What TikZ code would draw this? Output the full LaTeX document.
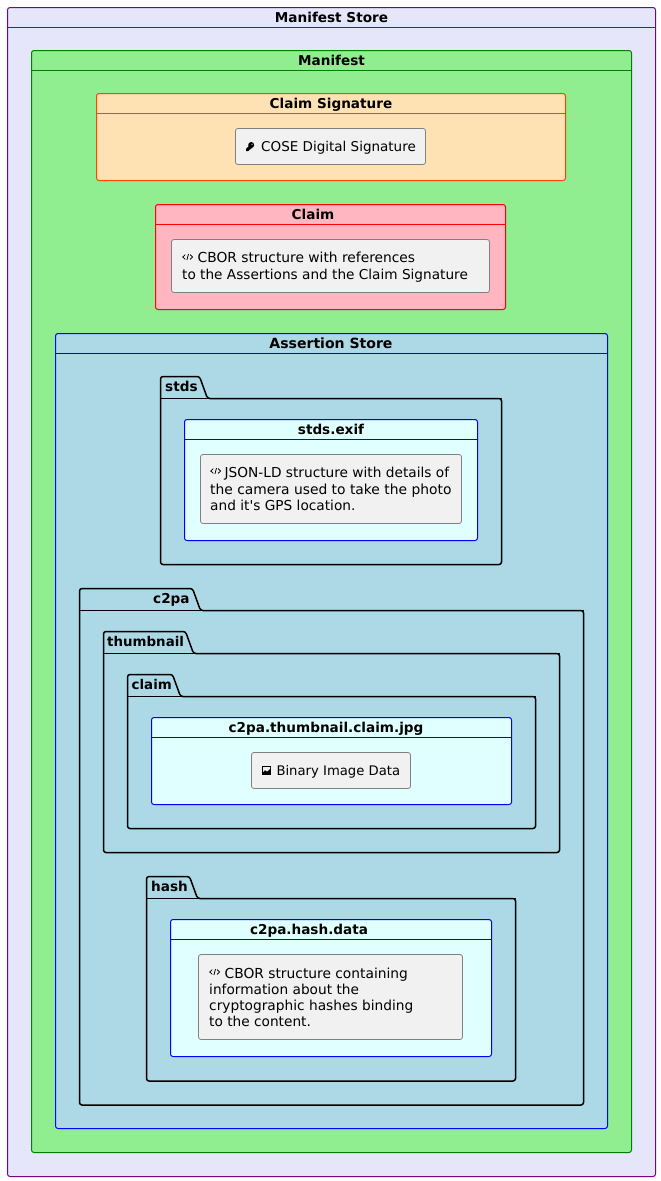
\documentclass[tikz,border=0pt]{standalone}
\usepackage{fontspec}
\setmainfont[Ligatures=TeXOff]{DejaVu Sans}
\newcommand{\ttl}{\fontsize{13.6}{16}\selectfont\bfseries}
\newcommand{\txt}{\fontsize{13.6}{16.5}\selectfont}
\newcommand{\sz}[1]{\fontsize{#1}{16.5}\selectfont}
\tikzset{
  cardbox/.style={line width=1pt,rounded corners=2.5pt},
  pkgbox/.style={draw=black,line width=1.5pt,rounded corners=2.5pt,fill=AssertFill},
  notebox/.style={draw=NoteLine,fill=NoteFill,line width=.8pt,rounded corners=2.5pt},
  titletext/.style={inner sep=0pt,anchor=base,font=\ttl,text=black},
  bodytext/.style={inner sep=0pt,anchor=base west,font=\txt,text=black,align=left},
}
\definecolor{StoreFill}{HTML}{E6E6FA}\definecolor{StoreLine}{HTML}{800080}
\definecolor{ManFill}{HTML}{90EE90}\definecolor{ManLine}{HTML}{008000}
\definecolor{SigFill}{HTML}{FFE2B4}\definecolor{SigLine}{HTML}{FF4500}
\definecolor{ClaimFill}{HTML}{FFB6C1}\definecolor{ClaimLine}{HTML}{FF0000}
\definecolor{AssertFill}{HTML}{ADD8E6}\definecolor{AssertLine}{HTML}{0000FF}
\definecolor{CyanFill}{HTML}{E0FFFF}
\definecolor{NoteFill}{HTML}{F1F1F1}\definecolor{NoteLine}{HTML}{808080}
% #1 name #2 x1 #3 y1 #4 x2 #5 y2 #6 line #7 fill #8 title #9 title centre x
\newcommand{\card}[9]{%
  \path[cardbox,draw=#6,fill=#7] (#2,#3) rectangle (#4,#5);
  \draw[#6,line width=1pt] (#2,#3+20) -- (#4,#3+20);
  \node[titletext] (#1) at (#9,#3+15) {#8};
}
% #1 name #2 x1 #3 tab top #4 x2 #5 y2 #6 line y #7 tab right #8 title #9 title west x
\newcommand{\pkg}[9]{%
  \path[pkgbox] (#2,#6) -- (#2,#3) -- (#7-8,#3) -- (#7,#6) -- (#4,#6) -- (#4,#5) -- (#2,#5) -- cycle;
  \draw[black,line width=1.5pt] (#2,#6) -- (#4,#6);
  \node[titletext,anchor=base west] (#1) at (#9,#3+15) {#8};
}
\newcommand{\noterect}[5]{\path[notebox] (#2,#3) rectangle (#4,#5); \coordinate (#1) at (#2,#3);}
\newcommand{\iconcode}[2]{%
  \begin{scope}[shift={(#1,#2)},line width=.8pt,black]
    \draw (2.8,-2.4) -- (0.3,0) -- (2.8,2.4);
    \draw (6,-3) -- (4.4,3);
    \draw (7.6,-2.4) -- (10.1,0) -- (7.6,2.4);
  \end{scope}}
\newcommand{\iconkey}[2]{%
  \begin{scope}[shift={(#1,#2)}]
    \fill[black] (6.2,-6) circle (3);
    \fill[black] (1,0) -- (1,-2.2) -- (5,-6) -- (7.5,-3.5) -- (3.2,0) -- cycle;
    \fill[NoteFill] (7,-6.8) circle (.7);
  \end{scope}}
\newcommand{\iconimage}[2]{%
  \begin{scope}[shift={(#1,#2)}]
    \fill[black] (0,0) rectangle (9,-9);
    \fill[NoteFill] (1,-8) -- (8,-8) -- (8,-6) -- (5,-3.5) -- (3,-5) -- (1,-3) -- cycle;
  \end{scope}}
\begin{document}
\begin{tikzpicture}[x=1pt,y=-1pt]
\useasboundingbox (0,0) rectangle (661,1181);
\fill[white] (0,0) rectangle (661,1181);
\card{store}{7.5}{7.5}{655.5}{1176.5}{StoreLine}{StoreFill}{Manifest Store}{331.5}
\card{manifest}{31.5}{50.5}{631.5}{1152.5}{ManLine}{ManFill}{Manifest}{331.5}
\card{sig}{96.5}{93.5}{565.5}{180.5}{SigLine}{SigFill}{Claim Signature}{331}
\noterect{sign}{235.5}{128.5}{425.5}{164.5}
\iconkey{245}{151}
\node[bodytext] (signt) at (261,151) {\sz{13.5}COSE Digital Signature};
\card{claim}{155.5}{204.5}{505.5}{309.5}{ClaimLine}{ClaimFill}{Claim}{313}
\noterect{claimn}{171.5}{239.5}{489.5}{292.5}
\iconcode{182.5}{257}
\node[bodytext] (claimt1) at (197.5,262) {\sz{13.8}CBOR structure with references};
\node[bodytext] (claimt2) at (182,279) {\sz{13.65}to the Assertions and the Claim Signature};
\card{assert}{55.5}{333.5}{607.5}{1128.5}{AssertLine}{AssertFill}{\fontsize{14.05}{16}\selectfont Assertion Store}{331}
\pkg{stds}{160.5}{376.5}{501.5}{564.5}{398.5}{207.5}{stds}{165}
\card{exif}{184.5}{419.5}{477.5}{540.5}{AssertLine}{CyanFill}{stds.exif}{331}
\noterect{exifn}{200.5}{454.5}{461.5}{523.5}
\iconcode{210.5}{471}
\node[bodytext] (exift1) at (224.5,477) {\sz{13.7}JSON-LD structure with details of};
\node[bodytext] (exift2) at (210,494) {\sz{13.85}the camera used to take the photo};
\node[bodytext] (exift3) at (210,510) {\sz{13.7}and it's GPS location.};
\pkg{c2pa}{79.5}{588.5}{583.5}{1105}{610.5}{200.5}{c2pa}{153}
\pkg{thumb}{103.5}{631.5}{559.5}{852.5}{653.5}{193.5}{\fontsize{13.4}{16}\selectfont thumbnail}{107}
\pkg{claimp}{127.5}{674.5}{535.5}{828.5}{696.5}{180.5}{\fontsize{13.4}{16}\selectfont claim}{131.5}
\card{jpg}{151.5}{717.5}{511.5}{804.5}{AssertLine}{CyanFill}{c2pa.thumbnail.claim.jpg}{326}
\noterect{jpgn}{251.5}{752.5}{410.5}{788.5}
\iconimage{262}{775}
\node[bodytext] (jpgt) at (276.3,775) {\sz{13.2}Binary Image Data};
\pkg{hash}{146.5}{876.5}{515.5}{1081}{898.5}{197.5}{hash}{151}
\card{data}{170.5}{919.5}{491.5}{1056.5}{AssertLine}{CyanFill}{c2pa.hash.data}{309}
\noterect{datan}{198.5}{954.5}{462.5}{1039.5}
\iconcode{209.5}{972}
\node[bodytext] (datat1) at (224.5,978) {\sz{13.8}CBOR structure containing};
\node[bodytext] (datat2) at (209,994) {\sz{13.7}information about the};
\node[bodytext] (datat3) at (209,1010) {\sz{13.75}cryptographic hashes binding};
\node[bodytext] (datat4) at (209,1026) {\sz{13.7}to the content.};
\end{tikzpicture}
\end{document}
